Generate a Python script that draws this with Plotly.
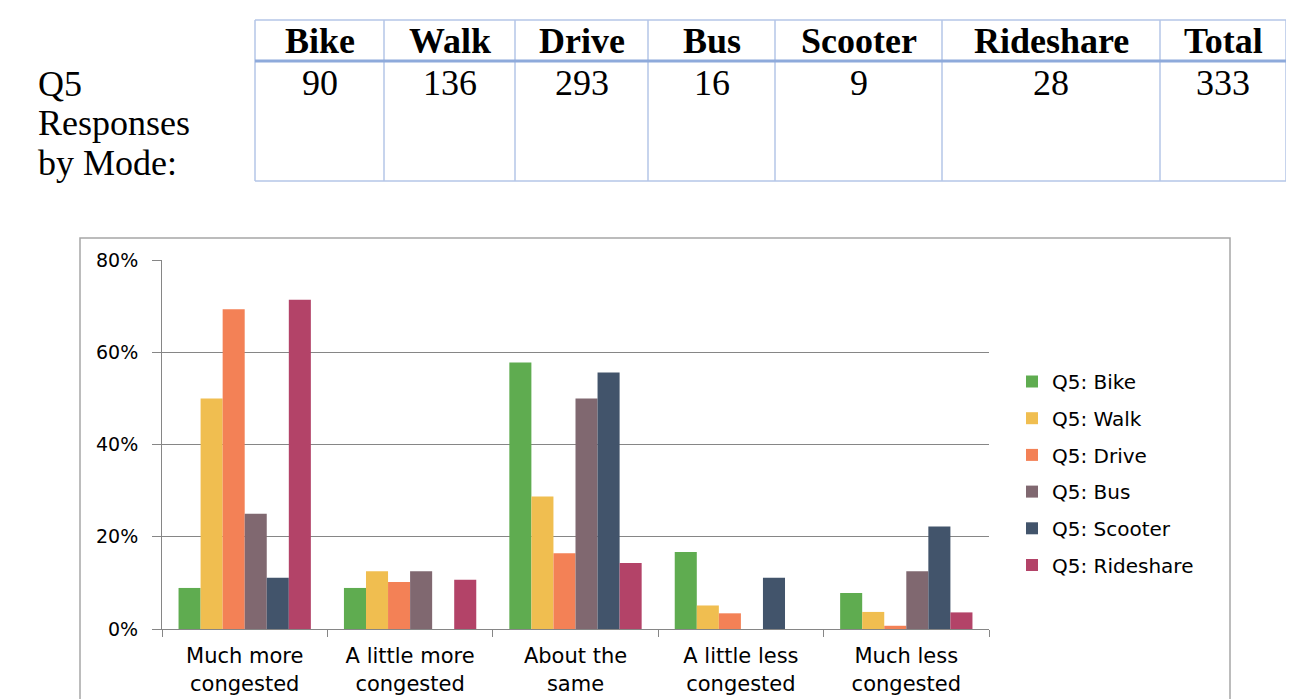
import plotly.graph_objects as go

# ---------------- data ----------------
categories = ["Much more<br>congested", "A little more<br>congested", "About the<br>same",
              "A little less<br>congested", "Much less<br>congested"]
modes = ["Bike", "Walk", "Drive", "Bus", "Scooter", "Rideshare"]
mode_counts = [90, 136, 293, 16, 9, 28]
total_label = "Total"
total_count = 333
row_label = ["Q5", "Responses", "by Mode:"]

bike = [8.9, 8.9, 57.8, 16.7, 7.8]
walk = [50.0, 12.5, 28.7, 5.1, 3.7]
drive = [69.3, 10.2, 16.4, 3.4, 0.7]
bus = [25.0, 12.5, 50.0, 0.0, 12.5]
scooter = [11.1, 0.0, 55.6, 11.1, 22.2]
rideshare = [71.4, 10.7, 14.3, 0.0, 3.6]

series = [bike, walk, drive, bus, scooter, rideshare]
colors = ["#5fac50", "#f0be50", "#f38156", "#806870", "#42546b", "#b34368"]
y_ticks = [0, 20, 40, 60, 80]
y_tick_text = ["0%", "20%", "40%", "60%", "80%"]

# ---------------- layout geometry ----------------
OFF = 8  # page body margin
W, H = 1294 - OFF, 699 - OFF
L, R, T, B = 162 - OFF, 1294 - 989, 260 - OFF, 699 - 629
PW, PH = W - L - R, H - T - B


def fx(px):
    return (px - OFF - L) / PW


def fy(py):
    return (H - B - (py - OFF)) / PH


fig = go.Figure()
for name, vals, col in zip(modes, series, colors):
    fig.add_trace(go.Bar(
        x=categories, y=vals, name="Q5: " + name,
        marker=dict(color=col, line=dict(width=0)),
        legendgroup=name,
    ))

shapes = []
annotations = []

# chart frame
shapes.append(dict(type="rect", xref="paper", yref="paper",
                   x0=fx(80), x1=fx(1230), y0=fy(715), y1=fy(238),
                   line=dict(color="#a6a6a6", width=1.5), layer="below"))

# top table
col_edges = [255, 384, 515, 648, 775, 942, 1160, 1286]
tbl_top, tbl_mid, tbl_bot = 20, 61, 181
thin = "#b4c6e7"
thick = "#8eaadb"
shapes.append(dict(type="line", xref="paper", yref="paper",
                   x0=fx(col_edges[0]), x1=fx(col_edges[-1]), y0=fy(tbl_top), y1=fy(tbl_top),
                   line=dict(color=thin, width=1.5)))
shapes.append(dict(type="line", xref="paper", yref="paper",
                   x0=fx(col_edges[0]), x1=fx(col_edges[-1]), y0=fy(tbl_bot), y1=fy(tbl_bot),
                   line=dict(color=thin, width=1.5)))
for xe in col_edges:
    shapes.append(dict(type="line", xref="paper", yref="paper",
                       x0=fx(xe), x1=fx(xe), y0=fy(tbl_top), y1=fy(tbl_bot),
                       line=dict(color=thin, width=1.5)))
shapes.append(dict(type="line", xref="paper", yref="paper",
                   x0=fx(col_edges[0]), x1=fx(col_edges[-1]), y0=fy(tbl_mid), y1=fy(tbl_mid),
                   line=dict(color=thick, width=3)))

headers = modes + [total_label]
values = mode_counts + [total_count]
serif = "Liberation Serif, Times New Roman, serif"
TS = 36
for i, (h, v) in enumerate(zip(headers, values)):
    cx = (col_edges[i] + col_edges[i + 1]) / 2
    annotations.append(dict(xref="paper", yref="paper", x=fx(cx), y=fy(41),
                            text="<b>%s</b>" % h, showarrow=False, borderpad=0,
                            xanchor="center", yanchor="middle",
                            font=dict(family=serif, size=TS, color="black")))
    annotations.append(dict(xref="paper", yref="paper", x=fx(cx), y=fy(83),
                            text=str(v), showarrow=False, borderpad=0,
                            xanchor="center", yanchor="middle",
                            font=dict(family=serif, size=TS, color="black")))

for txt, yy in zip(row_label, [84, 123, 163]):
    annotations.append(dict(xref="paper", yref="paper", x=fx(37), y=fy(yy),
                            text=txt, showarrow=False, borderpad=0,
                            xanchor="left", yanchor="middle",
                            font=dict(family=serif, size=TS, color="black")))

sans = "DejaVu Sans"
fig.update_layout(
    width=W, height=H,
    margin=dict(l=L, r=R, t=T, b=B, pad=0, autoexpand=False),
    paper_bgcolor="white", plot_bgcolor="white",
    barmode="group", bargap=0.2, bargroupgap=0,
    font=dict(family=sans, size=18, color="black"),
    showlegend=True,
    legend=dict(x=fx(1012), y=fy(362), xanchor="left", yanchor="top",
                font=dict(family=sans, size=20, color="black"),
                tracegroupgap=7.7, bgcolor="rgba(0,0,0,0)"),
    shapes=shapes,
    annotations=annotations,
    xaxis=dict(showline=True, linecolor="#868686", linewidth=1, automargin=False,
               ticks="outside", tickson="boundaries", ticklen=7, tickcolor="#868686",
               ticklabelstandoff=8,
               tickfont=dict(family=sans, size=21, color="black"),
               showgrid=False, fixedrange=True),
    yaxis=dict(range=[0, 80], tickmode="array", tickvals=y_ticks, ticktext=y_tick_text,
               showline=True, linecolor="#868686", linewidth=1, automargin=False,
               ticks="outside", ticklen=9, tickcolor="#868686",
               ticklabelstandoff=10,
               showgrid=True, gridcolor="#868686", gridwidth=1,
               zeroline=False,
               tickfont=dict(family=sans, size=19, color="black"),
               fixedrange=True),
)

fig.write_html("out.html")
